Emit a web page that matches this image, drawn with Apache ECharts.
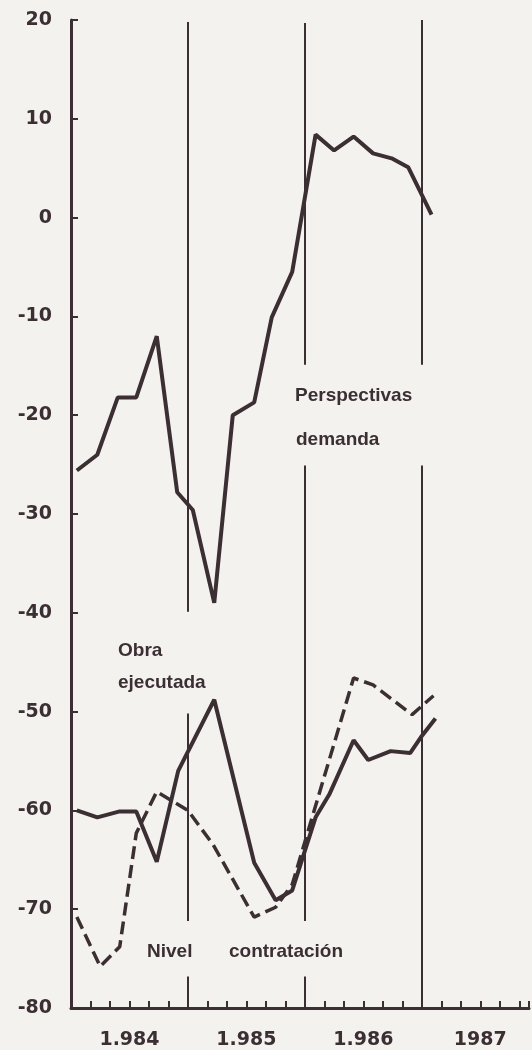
<!DOCTYPE html>
<html>
<head>
  <meta charset="utf-8">
  <script src="https://cdn.jsdelivr.net/npm/echarts@6/dist/echarts.min.js"></script>
  <style>
    html, body { margin: 0; padding: 0; background: #f3f2ef; }
  </style>
</head>
<body>
  <div id="main" style="width: 532px; height: 1050px"></div>
  <script type="text/javascript">
    // x = meses desde enero 1984, y = saldo (%)
    var perspectivasDemanda = [
      [0.6, -25.6], [2.7, -24], [4.8, -18.2], [6.7, -18.2], [8.8, -12],
      [10.9, -27.8], [12.5, -29.6], [14.7, -39], [16.6, -20], [18.8, -18.7],
      [20.6, -10.1], [22.7, -5.5], [25.1, 8.4], [27, 6.8], [29, 8.2],
      [31, 6.5], [32.9, 6], [34.6, 5.1], [37, 0.3]
    ];
    var obraEjecutada = [
      [0.6, -60], [2.7, -60.7], [5, -60.1], [6.7, -60.1], [8.8, -65.2],
      [11, -56], [14.7, -48.8], [18.8, -65.3], [21, -69.1], [22.7, -68.1],
      [25.1, -60.7], [26.5, -58.4], [29, -52.9], [30.5, -54.9], [32.8, -54],
      [34.8, -54.2], [35.9, -52.6], [37.4, -50.7]
    ];
    var nivelContratacion = [
      [0.6, -70.8], [3, -75.8], [5, -73.8], [6.7, -62.3], [8.8, -58.1],
      [12, -60], [14.6, -63.5], [18.8, -70.8], [21, -69.8], [22.7, -67.5],
      [29, -46.6], [31, -47.3], [35, -50.3], [37.2, -48.4]
    ];
    var years = ['1.984', '1.985', '1.986', '1987'];
    var yearCenters = [6, 18, 30, 42];
    // separaciones entre años (con huecos donde pasan los textos)
    var yearLines = [
      [12, 19.8, -39.9], [12, -50.2, -71.2], [12, -76.8, -80],
      [24, 19.7, -14.9], [24, -25.1, -71.2], [24, -76.8, -80],
      [36, 20, -14.9], [36, -25.1, -80]
    ];

    var ink = '#3b2f33';
    var txtFont = 'bold 19px "Liberation Sans"';
    var myChart = echarts.init(document.getElementById('main'));

    myChart.setOption({
      backgroundColor: '#f3f2ef',
      animation: false,
      grid: { left: 71, top: 20, right: 1, height: 988 },
      xAxis: {
        type: 'value',
        min: 0,
        max: 47,
        interval: 2,
        splitLine: { show: false },
        axisLine: { onZero: false, lineStyle: { color: ink, width: 3 } },
        axisTick: { inside: true, length: 7, lineStyle: { color: ink, width: 2 } },
        axisLabel: {
          margin: 23,
          color: ink,
          fontSize: 19,
          fontWeight: 'bold',
          fontFamily: 'DejaVu Sans',
          formatter: function (v) {
            var i = yearCenters.indexOf(v);
            return i >= 0 ? years[i] : '';
          }
        }
      },
      yAxis: {
        type: 'value',
        min: -80,
        max: 20,
        interval: 10,
        splitLine: { show: false },
        axisLine: { onZero: false, lineStyle: { color: ink, width: 3 } },
        axisTick: { inside: true, length: 7, lineStyle: { color: ink, width: 2 } },
        axisLabel: { margin: 19, color: ink, fontSize: 19, fontWeight: 'bold', fontFamily: 'DejaVu Sans' }
      },
      series: [
        {
          type: 'line',
          data: perspectivasDemanda,
          symbol: 'none',
          lineStyle: { color: ink, width: 4 }
        },
        {
          type: 'line',
          data: obraEjecutada,
          symbol: 'none',
          lineStyle: { color: ink, width: 4 }
        },
        {
          type: 'line',
          data: nivelContratacion,
          symbol: 'none',
          lineStyle: { color: ink, width: 3.5, type: [13, 6] }
        },
        {
          type: 'line',
          data: [],
          markLine: {
            silent: true,
            symbol: ['none', 'none'],
            label: { show: false },
            lineStyle: { color: ink, width: 2, type: 'solid' },
            data: yearLines.map(function (s) {
              return [{ coord: [s[0], s[1]] }, { coord: [s[0], s[2]] }];
            })
          }
        }
      ],
      graphic: [
        { type: 'text', left: 295, top: 386, style: { text: 'Perspectivas', fill: ink, font: txtFont } },
        { type: 'text', left: 296, top: 430, style: { text: 'demanda', fill: ink, font: txtFont } },
        { type: 'text', left: 118, top: 641, style: { text: 'Obra', fill: ink, font: txtFont } },
        { type: 'text', left: 118, top: 673, style: { text: 'ejecutada', fill: ink, font: txtFont } },
        { type: 'text', left: 147, top: 942, style: { text: 'Nivel', fill: ink, font: txtFont } },
        { type: 'text', left: 229, top: 942, style: { text: 'contratación', fill: ink, font: txtFont } }
      ]
    });
  </script>
</body>
</html>
